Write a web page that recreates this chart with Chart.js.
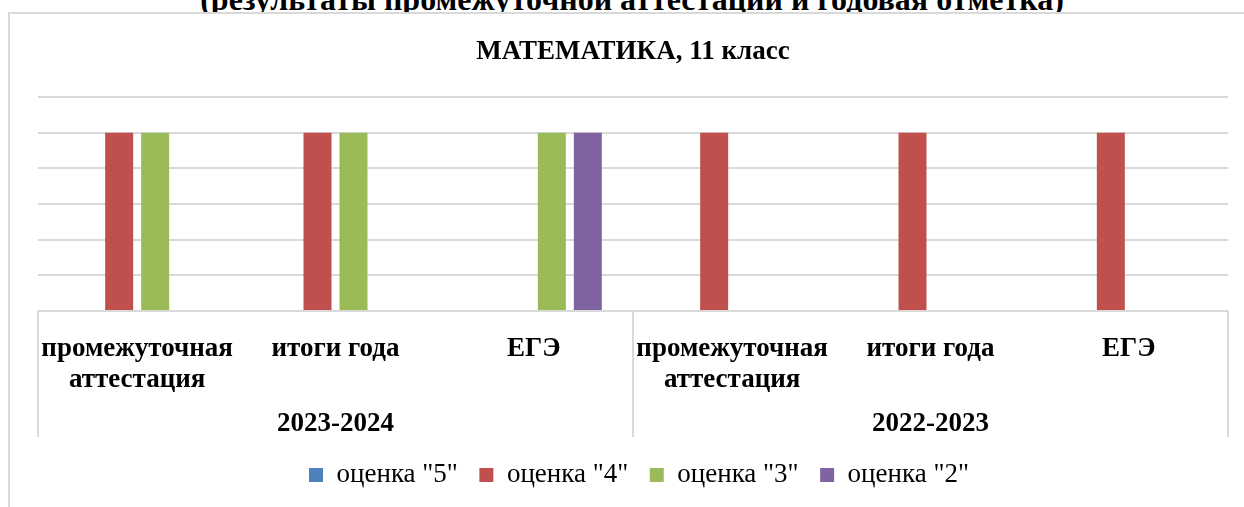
<!DOCTYPE html>
<html>
<head>
<meta charset="utf-8">
<script src="https://cdn.jsdelivr.net/npm/chart.js@4.4.1/dist/chart.umd.min.js"></script>
<style>
  html, body { margin: 0; padding: 0; background: #fff; }
  body { width: 1244px; height: 507px; position: relative; overflow: hidden; }
  #header {
    position: absolute; left: 0; top: -17px; width: 1264px; text-align: center;
    font: bold 32px/32px "Liberation Serif", "Times New Roman", serif; color: #000;
    white-space: nowrap; z-index: 1;
  }
  #frame {
    position: absolute; left: 8px; top: 12px; right: -10px; bottom: -10px;
    background: #fff; border-top: 2px solid #d9d9d9; border-left: 2px solid #d9d9d9; z-index: 2;
  }
  #wrap { position: absolute; left: 0; top: 0; width: 1244px; height: 507px; z-index: 3; }
</style>
</head>
<body>
<div id="header">(результаты промежуточной аттестации и годовая отметка)</div>
<div id="frame"></div>
<div id="wrap"><canvas id="c" width="1244" height="507"></canvas></div>
<script>
// ---- data ----
const chartTitle = 'МАТЕМАТИКА, 11 класс';
const categories = [['промежуточная', 'аттестация'], 'итоги года', 'ЕГЭ', ['промежуточная', 'аттестация'], 'итоги года', 'ЕГЭ'];
const groups = ['2023-2024', '2022-2023'];
const groupSizes = [3, 3];
const seriesNames = ['оценка "5"', 'оценка "4"', 'оценка "3"', 'оценка "2"'];
const grade5 = [0, 0, 0, 0, 0, 0];
const grade4 = [1, 1, 0, 1, 1, 1];
const grade3 = [1, 1, 1, 0, 0, 0];
const grade2 = [0, 0, 1, 0, 0, 0];
const yMax = 1.2;
const yStep = 0.2;

const colors = ['#4F81BD', '#C0504D', '#9BBB59', '#8064A2'];
const serif = '"Liberation Serif", "Times New Roman", serif';

const groupPlugin = {
  id: 'groupAxis',
  afterLayout(chart) {
    const lg = chart.legend;
    if (lg) { lg.left += 6; lg.right += 6; lg.top += 3; lg.bottom += 3; }
  },
  afterDraw(chart) {
    const ctx = chart.ctx;
    const xs = chart.scales.x;
    const area = chart.chartArea;
    const half = (xs.getPixelForValue(1) - xs.getPixelForValue(0)) / 2;
    ctx.save();
    ctx.strokeStyle = '#d9d9d9';
    ctx.lineWidth = 2;
    const bounds = [0];
    let acc = 0;
    groupSizes.forEach(s => { acc += s; bounds.push(acc); });
    bounds.forEach(b => {
      const px = b === 0 ? xs.getPixelForValue(0) - half : xs.getPixelForValue(b - 1) + half;
      ctx.beginPath();
      ctx.moveTo(Math.round(px), area.bottom);
      ctx.lineTo(Math.round(px), xs.bottom);
      ctx.stroke();
    });
    ctx.fillStyle = '#000';
    ctx.font = 'bold 27px ' + serif;
    ctx.textAlign = 'center';
    ctx.textBaseline = 'middle';
    let start = 0;
    groups.forEach((g, i) => {
      const a = xs.getPixelForValue(start);
      const b = xs.getPixelForValue(start + groupSizes[i] - 1);
      ctx.fillText(g, (a + b) / 2, area.bottom + 113);
      start += groupSizes[i];
    });
    ctx.restore();
  }
};

new Chart(document.getElementById('c'), {
  type: 'bar',
  data: {
    labels: categories,
    datasets: [
      { label: seriesNames[0], data: grade5, backgroundColor: colors[0] },
      { label: seriesNames[1], data: grade4, backgroundColor: colors[1] },
      { label: seriesNames[2], data: grade3, backgroundColor: colors[2] },
      { label: seriesNames[3], data: grade2, backgroundColor: colors[3] }
    ]
  },
  options: {
    responsive: false,
    animation: false,
    events: [],
    categoryPercentage: 0.726,
    barPercentage: 0.778,
    layout: { padding: { left: 38, right: 16, top: 0, bottom: 11.5 } },
    scales: {
      x: {
        grid: { display: false },
        border: { display: false },
        ticks: {
          autoSkip: false, maxRotation: 0, minRotation: 0,
          color: '#000', padding: 14.5,
          font: { family: serif, size: 27, weight: 'bold', lineHeight: 1.15 }
        },
        afterFit(s) { s.height = 126; }
      },
      y: {
        min: 0, max: yMax,
        grid: { color: '#d9d9d9', lineWidth: 2, drawTicks: false },
        border: { display: false },
        ticks: { display: false, stepSize: yStep }
      }
    },
    plugins: {
      title: {
        display: true, text: chartTitle, color: '#000',
        font: { family: serif, size: 27, weight: 'bold', lineHeight: 1.2 },
        padding: { top: 36, bottom: 28.6 }
      },
      legend: {
        display: true, position: 'bottom',
        labels: {
          color: '#000', boxWidth: 14, boxHeight: 14, padding: 21.5,
          font: { family: serif, size: 27 }
        }
      },
      tooltip: { enabled: false }
    }
  },
  plugins: [groupPlugin]
});
</script>
</body>
</html>
